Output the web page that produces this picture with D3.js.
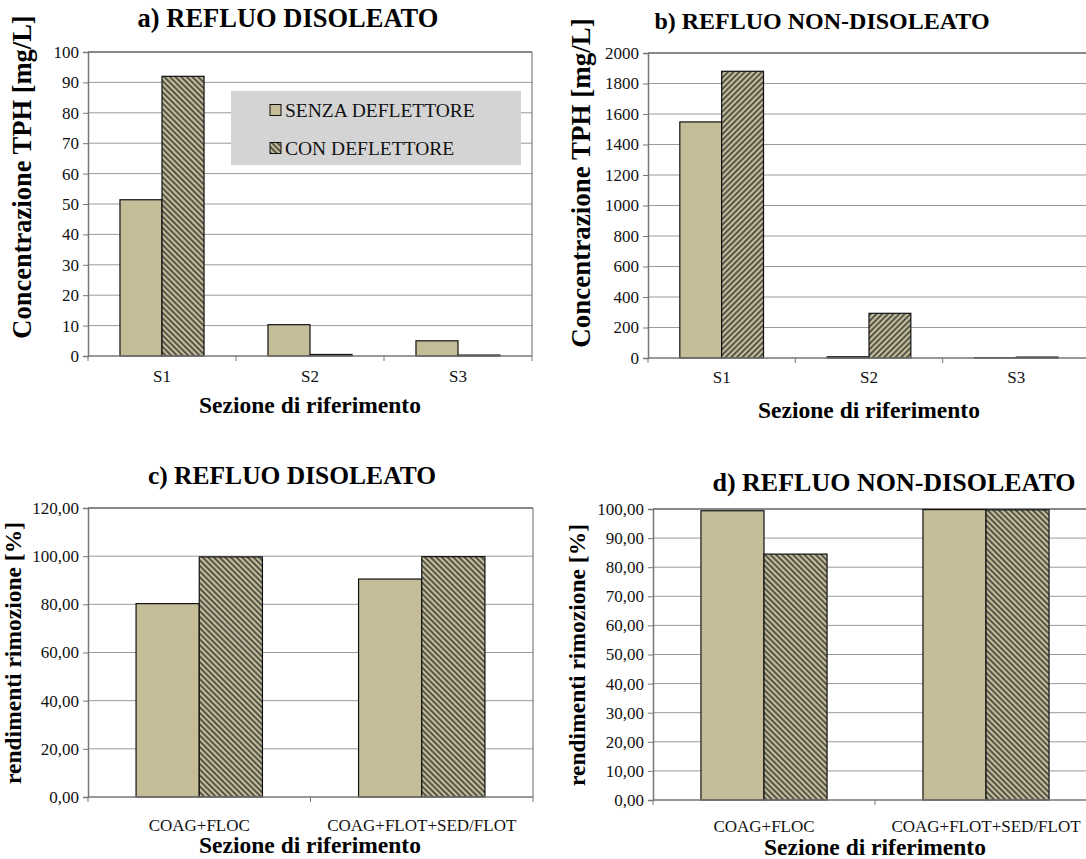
<!DOCTYPE html>
<html>
<head>
<meta charset="utf-8">
<script src="https://cdn.jsdelivr.net/npm/d3@7"></script>
<style>
  body { margin: 0; background: #fff; }
  svg, svg text { font-family: "Liberation Serif", "Times New Roman", Times, "DejaVu Serif", serif; }
</style>
</head>
<body>
<div id="chart"></div>
<script>
// Data
const seriesNames = ["SENZA DEFLETTORE", "CON DEFLETTORE"];
const sections = ["S1", "S2", "S3"];
const treatments = ["COAG+FLOC", "COAG+FLOT+SED/FLOT"];

const disoleatoSenza = [51.4, 10.3, 5.0];
const disoleatoCon = [92.0, 0.5, 0.3];
const nonDisoleatoSenza = [1548, 8, 2];
const nonDisoleatoCon = [1880, 293, 6];

const rendDisoleatoSenza = [80.3, 90.5];
const rendDisoleatoCon = [99.7, 99.8];
const rendNonDisoleatoSenza = [99.4, 99.8];
const rendNonDisoleatoCon = [84.5, 99.7];

const ticksA = [0, 10, 20, 30, 40, 50, 60, 70, 80, 90, 100];
const ticksB = [0, 200, 400, 600, 800, 1000, 1200, 1400, 1600, 1800, 2000];
const ticksC = [0, 20, 40, 60, 80, 100, 120];
const ticksD = [0, 10, 20, 30, 40, 50, 60, 70, 80, 90, 100];

const W = 1086, H = 859;
const TAN = "#c4bd98";
const FONT = "'Liberation Serif', 'Times New Roman', Times, 'DejaVu Serif', serif";
const itFormat = d3.formatLocale({ decimal: ",", thousands: ".", grouping: [3], currency: ["", "€"] }).format(".2f");

const svg = d3.select("#chart").append("svg")
    .attr("width", W)
    .attr("height", H)
    .attr("font-family", FONT);

// hatch patterns for "CON DEFLETTORE"
const defs = svg.append("defs");
function addHatch(id, angle) {
    const p = defs.append("pattern")
        .attr("id", id)
        .attr("patternUnits", "userSpaceOnUse")
        .attr("width", 4)
        .attr("height", 4)
        .attr("patternTransform", `rotate(${angle})`);
    p.append("rect").attr("width", 4).attr("height", 4).attr("fill", TAN);
    p.append("rect").attr("width", 1.8).attr("height", 4).attr("fill", "#4a4a44");
}
addHatch("hatch-back", -45);
addHatch("hatch-fwd", 45);

function panel(cfg) {
    const { x0, x1, y0, y1, cats, senza, con, ticks, fmt, hatch } = cfg;
    const g = svg.append("g");

    const y = d3.scaleLinear().domain([0, ticks[ticks.length - 1]]).range([y0, y1]);
    const xb = d3.scaleBand().domain(cats).range([x0, x1])
        .paddingInner(0.432).paddingOuter(0.216);
    const xs = d3.scaleBand().domain(seriesNames).range([0, xb.bandwidth()]);

    // gridlines
    g.append("g").selectAll("line")
        .data(ticks.slice(1))
        .join("line")
        .attr("x1", x0).attr("x2", x1)
        .attr("y1", d => y(d)).attr("y2", d => y(d))
        .attr("stroke", "#9a9a9a")
        .attr("stroke-width", 1);

    // plot border (top and right)
    g.append("line")
        .attr("x1", x0).attr("x2", x1).attr("y1", y1).attr("y2", y1)
        .attr("stroke", "#444").attr("stroke-width", 1.2);
    g.append("line")
        .attr("x1", x1).attr("x2", x1).attr("y1", y1).attr("y2", y0)
        .attr("stroke", "#666").attr("stroke-width", 1);

    // bars
    const rows = cats.map((c, i) => ({ cat: c, vals: [senza[i], con[i]] }));
    g.append("g").selectAll("g")
        .data(rows)
        .join("g")
        .attr("transform", d => `translate(${xb(d.cat)},0)`)
        .selectAll("rect")
        .data(d => d.vals.map((v, k) => ({ key: seriesNames[k], v })))
        .join("rect")
        .attr("x", d => xs(d.key))
        .attr("width", xs.bandwidth())
        .attr("y", d => y(d.v))
        .attr("height", d => y0 - y(d.v))
        .attr("fill", d => d.key === seriesNames[0] ? TAN : `url(#${hatch})`)
        .attr("stroke", "#111")
        .attr("stroke-width", 1.2);

    // y axis
    const yAxis = d3.axisLeft(y).tickValues(ticks).tickSize(5).tickPadding(4).tickFormat(fmt);
    const ya = g.append("g").attr("transform", `translate(${x0},0)`).call(yAxis)
        .attr("font-family", FONT);
    ya.select(".domain").attr("stroke", "#777").attr("stroke-width", 1.5);
    ya.selectAll(".tick line").attr("stroke", "#777");
    ya.selectAll("text").attr("font-size", 17).attr("fill", "#111");

    // x axis: baseline with separators between categories
    g.append("line")
        .attr("x1", x0).attr("x2", x1).attr("y1", y0).attr("y2", y0)
        .attr("stroke", "#777").attr("stroke-width", 1.5);
    const step = xb.step();
    g.append("g").selectAll("line")
        .data(d3.range(cats.length + 1))
        .join("line")
        .attr("x1", i => x0 + i * step).attr("x2", i => x0 + i * step)
        .attr("y1", y0).attr("y2", y0 + 5)
        .attr("stroke", "#777");
    g.append("g").selectAll("text")
        .data(cats)
        .join("text")
        .attr("x", d => xb(d) + xb.bandwidth() / 2)
        .attr("y", y0 + cfg.tickDy)
        .attr("text-anchor", "middle")
        .attr("font-size", 17)
        .attr("fill", "#111")
        .text(d => d);

    // titles
    g.append("text")
        .attr("x", cfg.titleX).attr("y", cfg.titleY)
        .attr("text-anchor", "middle")
        .attr("font-size", cfg.titleSize).attr("font-weight", "bold")
        .text(cfg.title);
    g.append("text")
        .attr("x", cfg.xTitleX).attr("y", cfg.xTitleY)
        .attr("text-anchor", "middle")
        .attr("font-size", 23.5).attr("font-weight", "bold")
        .text("Sezione di riferimento");
    g.append("text")
        .attr("transform", `translate(${cfg.yTitleX},${cfg.yTitleY}) rotate(-90)`)
        .attr("text-anchor", "middle")
        .attr("font-size", cfg.yTitleSize).attr("font-weight", "bold")
        .text(cfg.yTitle);
    return g;
}

const pa = panel({
    x0: 88, x1: 532, y0: 356, y1: 52, cats: sections,
    senza: disoleatoSenza, con: disoleatoCon, ticks: ticksA, fmt: d3.format("d"),
    hatch: "hatch-back", tickDy: 26,
    title: "a) REFLUO DISOLEATO", titleX: 288, titleY: 27, titleSize: 26.5,
    xTitleX: 310, xTitleY: 413,
    yTitle: "Concentrazione TPH [mg/L]", yTitleX: 31, yTitleY: 177, yTitleSize: 26.5
});
panel({
    x0: 648, x1: 1090, y0: 358, y1: 53, cats: sections,
    senza: nonDisoleatoSenza, con: nonDisoleatoCon, ticks: ticksB, fmt: d3.format("d"),
    hatch: "hatch-fwd", tickDy: 25,
    title: "b) REFLUO NON-DISOLEATO", titleX: 822, titleY: 29, titleSize: 24,
    xTitleX: 869, xTitleY: 418,
    yTitle: "Concentrazione TPH [mg/L]", yTitleX: 590, yTitleY: 183, yTitleSize: 27
});
panel({
    x0: 88, x1: 533, y0: 797, y1: 508, cats: treatments,
    senza: rendDisoleatoSenza, con: rendDisoleatoCon, ticks: ticksC, fmt: itFormat,
    hatch: "hatch-back", tickDy: 34,
    title: "c) REFLUO DISOLEATO", titleX: 292, titleY: 484, titleSize: 25.5,
    xTitleX: 310, xTitleY: 853,
    yTitle: "rendimenti rimozione [%]", yTitleX: 21, yTitleY: 653, yTitleSize: 23.5
});
panel({
    x0: 653, x1: 1097, y0: 800, y1: 509, cats: treatments,
    senza: rendNonDisoleatoSenza, con: rendNonDisoleatoCon, ticks: ticksD, fmt: itFormat,
    hatch: "hatch-back", tickDy: 32,
    title: "d) REFLUO NON-DISOLEATO", titleX: 894, titleY: 491, titleSize: 26,
    xTitleX: 875, xTitleY: 855,
    yTitle: "rendimenti rimozione [%]", yTitleX: 585, yTitleY: 655, yTitleSize: 23.5
});

// legend (panel a)
const legend = pa.append("g");
legend.append("rect")
    .attr("x", 231).attr("y", 91).attr("width", 290).attr("height", 74)
    .attr("fill", "#d4d4d4");
const legRow = legend.selectAll("g.row")
    .data(seriesNames)
    .join("g")
    .attr("class", "row")
    .attr("transform", (d, i) => `translate(270,${110 + i * 38})`);
legRow.append("rect")
    .attr("x", 0).attr("y", -5.5).attr("width", 11).attr("height", 11)
    .attr("fill", (d, i) => i === 0 ? TAN : "url(#hatch-back)")
    .attr("stroke", "#111").attr("stroke-width", 1);
legRow.append("text")
    .attr("x", 15).attr("y", 7)
    .attr("font-size", 19.5)
    .attr("fill", "#111")
    .text(d => d);
</script>
</body>
</html>
